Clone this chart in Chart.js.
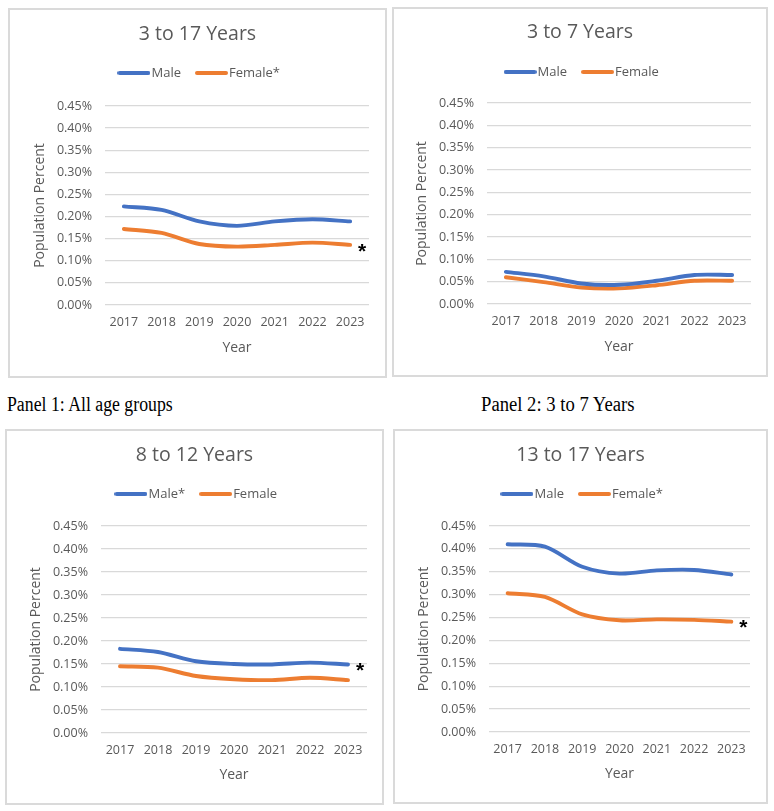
<!DOCTYPE html>
<html><head><meta charset="utf-8">
<script src="https://cdn.jsdelivr.net/npm/chart.js@4.4.1/dist/chart.umd.min.js"></script>
<style>
html,body{margin:0;padding:0;background:#fff}
body{width:774px;height:811px;position:relative;overflow:hidden}
.panel{position:absolute}
.panel canvas{position:absolute;left:0;top:0}
.frame{position:absolute;left:0;top:0;right:0;bottom:0;border:2px solid #dadada;box-sizing:border-box;pointer-events:none}
.cap{position:absolute;font-family:"Liberation Serif","Times New Roman",serif;font-size:20px;line-height:20px;color:#000;transform-origin:0 0;white-space:nowrap}
</style></head><body>
<div class="cap" id="cap1" style="left:7px;top:394px">Panel 1: All age groups</div>
<div class="cap" id="cap2" style="left:481px;top:394px">Panel 2: 3 to 7 Years</div>
<script>
// ---- data ----
const years = ['2017', '2018', '2019', '2020', '2021', '2022', '2023'];
const chartTitles = ['3 to 17 Years', '3 to 7 Years', '8 to 12 Years', '13 to 17 Years'];
const maleNames = ['Male', 'Male', 'Male*', 'Male'];
const femaleNames = ['Female*', 'Female', 'Female', 'Female*'];
const starredSeries = ['female', null, 'male', 'female'];
const male_3to17 = [0.223, 0.215, 0.189, 0.179, 0.189, 0.194, 0.189];
const female_3to17 = [0.172, 0.163, 0.138, 0.132, 0.136, 0.141, 0.136];
const male_3to7 = [0.072, 0.062, 0.046, 0.043, 0.052, 0.065, 0.065];
const female_3to7 = [0.060, 0.049, 0.037, 0.035, 0.042, 0.052, 0.052];
const male_8to12 = [0.183, 0.176, 0.156, 0.150, 0.149, 0.153, 0.149];
const female_8to12 = [0.145, 0.142, 0.124, 0.117, 0.115, 0.120, 0.115];
const male_13to17 = [0.410, 0.405, 0.361, 0.346, 0.353, 0.354, 0.344];
const female_13to17 = [0.303, 0.295, 0.257, 0.244, 0.246, 0.245, 0.241];
const yAxisMin = 0, yAxisMax = 0.45, yAxisStep = 0.05;
const yAxisTitle = 'Population Percent';
const xAxisTitle = 'Year';
const maleSeries = [male_3to17, male_3to7, male_8to12, male_13to17];
const femaleSeries = [female_3to17, female_3to7, female_8to12, female_13to17];

// ---- layout / style ----
const BLUE = '#4472C4', ORANGE = '#ED7D31', GREY = '#595959', GRID = '#d9d9d9';
const FONT = '"Open Sans", "Noto Sans", sans-serif';
const layoutSpecs = [
  {l:8,   t:8,   w:379, h:370, pl:97, pt:98, pr:18, pb:73, ty:26.5, ly:65, yx:32.5},
  {l:392, t:7,   w:376, h:370, pl:95, pt:96, pr:17, pb:73, ty:25.5, ly:65, yx:30},
  {l:5,   t:429, w:379, h:376, pl:96, pt:97, pr:17, pb:72, ty:26,   ly:65, yx:31},
  {l:393, t:429, w:375, h:375, pl:96, pt:97, pr:18, pb:72, ty:26,   ly:65, yx:31.5}
];

function legendLine(color) {
  const c = document.createElement('canvas');
  c.width = 33; c.height = 6;
  const g = c.getContext('2d');
  g.strokeStyle = color; g.lineWidth = 4; g.lineCap = 'round';
  g.beginPath(); g.moveTo(2, 3); g.lineTo(31, 3); g.stroke();
  return c;
}

const starPlugin = {
  id: 'starMark',
  afterLayout(chart) {
    // centre the legend block visually (line markers extend left of the item origin)
    if (chart.legend) { chart.legend.left += 4; chart.legend.right += 4; }
  },
  afterDatasetsDraw(chart, args, opts) {
    if (opts.index == null) return;
    const meta = chart.getDatasetMeta(opts.index);
    const pt = meta.data[meta.data.length - 1];
    if (!pt) return;
    const ctx = chart.ctx;
    ctx.save();
    ctx.fillStyle = '#000';
    ctx.font = 'bold 21px "Liberation Sans", Arial, sans-serif';
    ctx.textAlign = 'center';
    ctx.textBaseline = 'middle';
    ctx.fillText('*', pt.x + 12, pt.y + 7);
    ctx.restore();
  }
};

const LEG_PAD = 19.5, LEG_FONT = 13, TITLE_FONT = 19.5;

layoutSpecs.forEach((s, i) => {
  const div = document.createElement('div');
  div.className = 'panel';
  div.style.left = s.l + 'px'; div.style.top = s.t + 'px';
  div.style.width = s.w + 'px'; div.style.height = s.h + 'px';
  const cv = document.createElement('canvas');
  div.appendChild(cv);
  const fr = document.createElement('div'); fr.className = 'frame'; div.appendChild(fr);
  document.body.appendChild(div);

  const titleLH = TITLE_FONT * 1.2;
  const titlePadTop = s.ty - titleLH / 2;
  const legendTop = s.ly - LEG_PAD - LEG_FONT / 2;
  const titlePadBottom = legendTop - (titlePadTop + titleLH);
  const legendBottom = legendTop + LEG_FONT + LEG_PAD + 10;
  const spacerPad = Math.max(0, s.pt - legendBottom - 10);

  const star = starredSeries[i] === 'male' ? 0 : (starredSeries[i] === 'female' ? 1 : null);

  new Chart(cv, {
    type: 'line',
    data: {
      labels: years,
      datasets: [
        {label: maleNames[i], data: maleSeries[i], borderColor: BLUE, backgroundColor: BLUE,
         borderWidth: 3.9, pointRadius: 0, pointHoverRadius: 0, tension: 0.3,
         borderCapStyle: 'round', borderJoinStyle: 'round', pointStyle: legendLine(BLUE), fill: false},
        {label: femaleNames[i], data: femaleSeries[i], borderColor: ORANGE, backgroundColor: ORANGE,
         borderWidth: 3.9, pointRadius: 0, pointHoverRadius: 0, tension: 0.3,
         borderCapStyle: 'round', borderJoinStyle: 'round', pointStyle: legendLine(ORANGE), fill: false}
      ]
    },
    options: {
      responsive: true, maintainAspectRatio: false, animation: false,
      layout: {padding: 0},
      plugins: {
        tooltip: {enabled: false},
        title: {display: true, text: chartTitles[i], color: GREY,
                font: {family: FONT, size: TITLE_FONT, weight: 'normal', lineHeight: 1.2},
                padding: {top: titlePadTop, bottom: titlePadBottom}},
        subtitle: {display: true, text: '', weight: 500, font: {size: 10, lineHeight: 1},
                   padding: {top: spacerPad, bottom: 0}},
        legend: {display: true, position: 'top',
                 labels: {usePointStyle: true, pointStyleWidth: 22, padding: LEG_PAD,
                          color: GREY, font: {family: FONT, size: LEG_FONT}}},
        starMark: {index: star}
      },
      scales: {
        x: {
          offset: true,
          grid: {display: false, drawTicks: false},
          border: {display: false},
          ticks: {color: GREY, font: {family: FONT, size: 12.5}, padding: 10, maxRotation: 0, autoSkip: false},
          title: {display: true, text: xAxisTitle, color: GREY, font: {family: FONT, size: 14, lineHeight: 1.2},
                  padding: {top: 0, bottom: 22}},
          afterFit(scale) { scale.height = s.pb; }
        },
        y: {
          min: yAxisMin, max: yAxisMax,
          grid: {color: GRID, lineWidth: 1.3, drawTicks: false},
          border: {display: false},
          ticks: {stepSize: yAxisStep, color: GREY, font: {family: FONT, size: 12.5}, padding: 13,
                  callback: v => v.toFixed(2) + '%'},
          title: {display: true, text: yAxisTitle, color: GREY, font: {family: FONT, size: 14, lineHeight: 1.2},
                  padding: {top: s.yx - 8.4, bottom: 0}},
          afterFit(scale) { scale.width = s.pl; }
        },
        yr: {
          position: 'right', display: true,
          grid: {display: false, drawTicks: false}, border: {display: false},
          ticks: {display: false},
          afterFit(scale) { scale.width = s.pr; }
        }
      }
    },
    plugins: [starPlugin]
  });
});

// captions: fit to measured widths
[['cap1', 166], ['cap2', 153]].forEach(([id, w]) => {
  const el = document.getElementById(id);
  el.style.transform = 'scaleX(' + (w / el.offsetWidth) + ')';
});
</script>
</body></html>
